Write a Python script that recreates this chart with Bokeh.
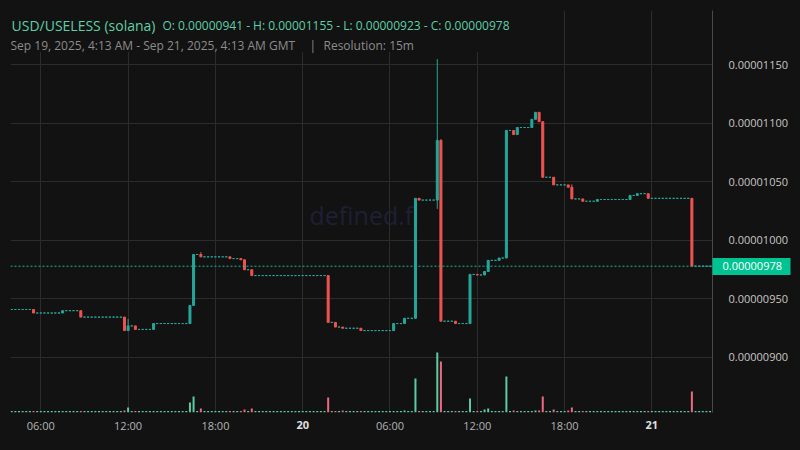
from datetime import datetime, timedelta
from bokeh.plotting import figure
from bokeh.models import (Range1d, FixedTicker, Span, Label, BoxAnnotation, LinearAxis,
                          ColumnDataSource, PrintfTickFormatter, GlobalInlineStyleSheet)
from bokeh.embed import file_html
from bokeh.resources import INLINE

# ---------------- data (prices in units of 1e-8 USD) ----------------
start = datetime(2025, 9, 19, 4, 0)
BAR = timedelta(minutes=15)
first_open_e8 = 941
close_e8 = [
    941, 941, 941, 941, 941, 941, 938, 938, 938, 938, 938, 938,
    938, 938, 940, 940, 940, 940, 940, 934.5, 934.5, 934.5, 934.5, 934.5,
    934.5, 934.5, 934.5, 934.5, 934.5, 934.5, 934.5, 923, 927, 927, 924, 924,
    924, 924, 924, 929, 929, 929, 929, 929, 929, 929, 929, 929,
    929, 944.5, 988, 988, 986, 986, 986, 986, 986, 986, 986, 986,
    984.5, 984.5, 984.5, 983.5, 975, 975, 970, 970, 970, 970, 970, 970,
    970, 970, 970, 970, 970, 970, 970, 970, 970, 970, 970, 970,
    970, 970, 970, 930, 930, 926, 926, 925, 925, 925, 925, 925,
    923, 923, 923, 923, 923, 923, 923, 923, 923, 929, 929, 929,
    933.5, 933.5, 933.5, 1036, 1034.5, 1034.5, 1034.5, 1034.5, 1034.5, 1085.5, 931, 931,
    931, 931, 929, 929, 929, 929, 971, 971, 970.5, 970.5, 973.5, 983,
    983, 983, 985, 985, 1094, 1094, 1090.5, 1096.5, 1096.5, 1096.5, 1096.5, 1103.5,
    1109.5, 1101.5, 1054, 1054, 1054, 1047.5, 1047.5, 1047.5, 1047.5, 1045.5, 1035.5, 1035.5,
    1035.5, 1033.5, 1033.5, 1033.5, 1033.5, 1035, 1035, 1035, 1035, 1035, 1035, 1035,
    1035, 1035, 1038.5, 1038.5, 1040, 1040, 1040, 1036, 1036, 1036, 1036, 1036,
    1036, 1036, 1036, 1036, 1036, 1036, 1036, 978, 978, 978, 978, 978, 978,
]
wick_idx = [32, 52, 117, 117, 118, 154]
wick_kind = ["high", "high", "high", "low", "high", "high"]
wick_val_e8 = [933, 990, 1155, 1027, 1086.5, 1048]

vol_base = 1.5
vol_idx = [6, 31, 32, 49, 50, 52, 64, 66, 87, 91, 108, 111, 117, 118, 126,
           130, 131, 136, 138, 144, 145, 146, 149, 153, 154, 187]
vol_val = [1.5, 2, 5, 10, 16, 4, 3, 4, 15, 2, 2, 34, 60, 51, 14,
           3, 4, 36, 2, 2, 2, 16, 3, 2, 5, 21]

y_ticks_e8 = [900, 950, 1000, 1050, 1100, 1150]
x_tick_times = [datetime(2025, 9, 19, 6), datetime(2025, 9, 19, 12), datetime(2025, 9, 19, 18),
                datetime(2025, 9, 20, 0), datetime(2025, 9, 20, 6), datetime(2025, 9, 20, 12),
                datetime(2025, 9, 20, 18), datetime(2025, 9, 21, 0)]
x_tick_labels = ["06:00", "12:00", "18:00", "20", "06:00", "12:00", "18:00", "21"]
last_price_e8 = 978

# ---------------- build ----------------
E8 = 1e-8
N = len(close_e8)
EPOCH = datetime(1970, 1, 1)
ms = lambda d: (d - EPOCH).total_seconds() * 1000.0
bar_ms = BAR.total_seconds() * 1000.0

times = [ms(start + i * BAR) for i in range(N)]
opens = [first_open_e8] + close_e8[:-1]
highs = [max(o, c) for o, c in zip(opens, close_e8)]
lows = [min(o, c) for o, c in zip(opens, close_e8)]
for i, k, v in zip(wick_idx, wick_kind, wick_val_e8):
    if k == "high":
        highs[i] = v
    else:
        lows[i] = v
vols = [vol_base] * N
for i, v in zip(vol_idx, vol_val):
    vols[i] = v

UP, DOWN = "#26a69a", "#ef5350"
VUP, VDOWN = "#5ccaa6", "#ea6a80"
ups = [c >= o for o, c in zip(opens, close_e8)]
src = ColumnDataSource(dict(
    t=times,
    top=[max(o, c) * E8 for o, c in zip(opens, close_e8)],
    bottom=[min(o, c) * E8 for o, c in zip(opens, close_e8)],
    high=[h * E8 for h in highs],
    low=[l * E8 for l in lows],
    color=[UP if u else DOWN for u in ups],
    vcolor=[VUP if u else VDOWN for u in ups],
    vol=vols,
))

BG = "#121212"
GRID = "#2c2c2c"
FONT = "Open Sans"

x_start = datetime(2025, 9, 19, 3, 55)
x_end = datetime(2025, 9, 21, 4, 10)
y_lo, y_hi = 853 * E8, 1196.5 * E8
p = figure(width=800, height=450, x_axis_type="datetime", y_axis_location="right",
           x_range=Range1d(ms(x_start), ms(x_end)), y_range=Range1d(y_lo, y_hi),
           output_backend="svg", toolbar_location=None,
           min_border_left=10, min_border_top=10, min_border_right=88, min_border_bottom=38,
           background_fill_color=BG, border_fill_color=BG, outline_line_color=None)
p.stylesheets = [GlobalInlineStyleSheet(
    css="html, body { background-color: #121212; margin: 0; padding: 0; overflow: hidden; }")]

p.extra_y_ranges = {"vol": Range1d(0, max(vols) * 6.7)}

# volume
p.vbar(x="t", width=bar_ms * 0.55, top="vol", bottom=0, source=src, y_range_name="vol",
       fill_color="vcolor", line_color=None)
# wicks + bodies
p.segment(x0="t", y0="low", x1="t", y1="high", source=src, line_color="color", line_width=1)
p.vbar(x="t", width=bar_ms * 0.55, top="top", bottom="bottom", source=src,
       fill_color="color", line_color="color", line_width=1)

# price axis
p.yaxis.ticker = FixedTicker(ticks=[v * E8 for v in y_ticks_e8])
p.yaxis.formatter = PrintfTickFormatter(format="%.8f")
p.yaxis.axis_line_color = "#4a4a4a"
p.yaxis.major_tick_line_color = None
p.yaxis.minor_tick_line_color = None
p.yaxis.major_label_text_color = "#c6c6c6"
p.yaxis.major_label_text_font = FONT
p.yaxis.major_label_text_font_size = "11px"
p.yaxis.major_label_standoff = 10

# last-price tag: a second right axis (stacked outside the first); its single tick,
# drawn inward, forms the green box, and its label is pulled back over it
tag_axis = LinearAxis(ticker=FixedTicker(ticks=[last_price_e8 * E8]),
                      formatter=PrintfTickFormatter(format="%.8f"),
                      axis_line_color=None, minor_tick_line_color=None,
                      major_tick_in=78, major_tick_out=0, major_tick_line_width=17,
                      major_tick_line_color="#00c391", major_tick_line_cap="butt",
                      major_label_standoff=-68, major_label_text_color="#ffffff",
                      major_label_text_font=FONT, major_label_text_font_size="11px")
p.add_layout(tag_axis, "right")

# time axis
tick_ms = [ms(d) for d in x_tick_times]
p.xaxis.ticker = FixedTicker(ticks=tick_ms)
p.xaxis.major_label_overrides = {t: (lab if ":" in lab else "") for t, lab in zip(tick_ms, x_tick_labels)}
p.xaxis.axis_line_color = None
p.xaxis.major_tick_line_color = None
p.xaxis.minor_tick_line_color = None
p.xaxis.major_tick_out = 0
p.xaxis.major_tick_in = 0
p.xaxis.major_label_text_color = "#b4b4b4"
p.xaxis.major_label_text_font = FONT
p.xaxis.major_label_text_font_size = "11px"
p.xaxis.major_label_standoff = 5

# bold day labels: a second bottom axis, pulled back up onto the first one's label row
day_ticks = [t for t, lab in zip(tick_ms, x_tick_labels) if ":" not in lab]
day_axis = LinearAxis(ticker=FixedTicker(ticks=day_ticks),
                      major_label_overrides={t: lab for t, lab in zip(tick_ms, x_tick_labels) if ":" not in lab},
                      axis_line_color=None, major_tick_line_color=None, minor_tick_line_color=None,
                      major_tick_in=0, major_tick_out=0,
                      major_label_standoff=-15, major_label_text_color="#e0e0e0",
                      major_label_text_font=FONT, major_label_text_font_size="11px",
                      major_label_text_font_style="bold")
p.add_layout(day_axis, "below")

p.xgrid.grid_line_color = GRID
p.ygrid.grid_line_color = GRID

# watermark
p.add_layout(Label(x=354, y=198, x_units="screen", y_units="screen", text="defined.fi",
                   text_align="center", text_baseline="alphabetic", text_font=FONT,
                   text_font_size="25px", text_color="#1f1f35", level="underlay"))

# last price line
p.add_layout(Span(location=last_price_e8 * E8, dimension="width", line_color="#1fb597",
                  line_width=1, line_dash="2 2"))

# header mask + texts
p.add_layout(BoxAnnotation(right=ms(start + 145 * BAR), bottom=1161 * E8,
                           fill_color=BG, fill_alpha=1.0, line_alpha=0))
p.add_layout(Label(x=1, y=387, x_units="screen", y_units="screen", text="USD/USELESS (solana)",
                   text_baseline="alphabetic",
                   text_font=FONT, text_font_size="14px", text_color="#5fcfa6"))
p.add_layout(Label(x=152, y=387, x_units="screen", y_units="screen",
                   text="O: 0.00000941 - H: 0.00001155 - L: 0.00000923 - C: 0.00000978",
                   text_baseline="alphabetic",
                   text_font=FONT, text_font_size="12px", text_color="#5fcfa6"))
p.add_layout(Label(x=0, y=367, x_units="screen", y_units="screen",
                   text="Sep 19, 2025, 4:13 AM - Sep 21, 2025, 4:13 AM GMT",
                   text_baseline="alphabetic",
                   text_font=FONT, text_font_size="12px", text_color="#8c8c8c"))
p.add_layout(Label(x=299, y=367, x_units="screen", y_units="screen", text="|",
                   text_baseline="alphabetic",
                   text_font=FONT, text_font_size="12px", text_color="#8c8c8c"))
p.add_layout(Label(x=313, y=367, x_units="screen", y_units="screen", text="Resolution: 15m",
                   text_baseline="alphabetic",
                   text_font=FONT, text_font_size="12px", text_color="#8c8c8c"))

open("out.html", "w").write(file_html(p, INLINE))
